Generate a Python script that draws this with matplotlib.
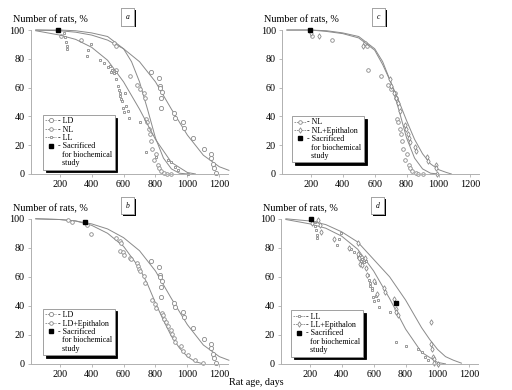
import matplotlib
matplotlib.use("Agg")
import matplotlib.pyplot as plt
import matplotlib.patheffects as pe
from matplotlib.lines import Line2D

plt.rcParams['font.family'] = ['Liberation Serif', 'DejaVu Serif']

# survival data (age in days, % of rats alive)
ld_x = [770, 824, 830, 831, 838, 832, 834, 916, 920, 974, 978, 1034, 1103, 1146, 1151, 1161, 1168, 1180]
ld_y = [71, 67, 61, 60, 57, 53, 46, 42, 39, 36, 32, 25, 17, 14, 11, 7, 4, 0.5]

nl_x = [205, 335, 540, 552, 555, 640, 684, 700, 727, 733, 740, 748, 760, 766, 770, 780, 791, 802, 813, 824, 834, 856, 873, 900]
nl_y = [96, 93, 91, 89, 72, 68, 62, 59, 56, 53, 38, 36, 31, 28, 23, 17, 10, 14, 6, 4, 2, 1, 0, 0]

ll_x = [230, 235, 240, 243, 245, 372, 380, 394, 455, 475, 505, 512, 523, 529, 538, 551, 555, 565, 570, 576,
        580, 587, 591, 598, 600, 609, 615, 626, 634, 705, 743, 804, 880, 900, 924, 940, 1006]
ll_y = [98, 95, 92, 89, 87, 82, 86, 90, 79, 77, 74, 75, 71, 72, 70, 71, 66, 61, 58, 56,
        54, 52, 51, 46, 43, 56, 47, 44, 39, 36, 15, 12, 10, 8, 5, 3, 0]

lde_x = [254, 275, 372, 394, 555, 576, 587, 580, 598, 602, 641, 645, 684, 690, 694, 701, 727, 733, 781, 798,
         806, 841, 845, 852, 867, 877, 895, 903, 914, 920, 963, 974, 1006, 1050, 1095]
lde_y = [99, 98, 96, 89.6, 87, 85, 83, 77.6, 77, 75, 73, 72, 69.6, 67.7, 65.7, 63.8, 60.4, 55.8, 44, 41,
         38.5, 35, 33.4, 31, 29, 26, 23.5, 20.5, 18, 15.4, 12, 9, 5.8, 3, 0.5]

nle_x = [202, 250, 525, 693, 703, 718, 731, 745, 756, 792, 798, 809, 813, 824, 852, 857, 925, 931, 984, 986, 988]
nle_y = [98, 96, 89, 66, 61, 56, 53, 49, 44, 34, 31, 28, 25, 22, 19, 16, 12, 9, 6, 4, 0]

lle_x = [213, 254, 261, 272, 354, 446, 500, 504, 511, 517, 526, 543, 554, 561, 602, 620, 663, 670, 728, 739,
         741, 750, 957, 962, 967, 969, 975, 978, 1000]
lle_y = [97, 99, 96, 91, 86, 80, 83, 76, 73, 69, 68, 73, 66, 61, 57, 48, 52, 49.5, 45, 38,
         36, 34, 28.6, 14, 10, 5, 3.5, 0.5, 0]

# fitted curves
ld_cx = [50, 200, 300, 400, 500, 600, 700, 800, 900, 1000, 1100, 1200, 1260]
ld_cy = [100, 99.5, 98.5, 96.5, 93, 87, 78, 64, 45, 27, 13, 5, 2.5]
nl_cx = [50, 200, 300, 400, 500, 600, 650, 700, 750, 800, 850, 900, 950, 1000]
nl_cy = [100, 100, 99.5, 98, 95.5, 87, 78, 64, 45, 25, 11, 3.5, 0.5, 0]
ll_cx = [50, 200, 300, 400, 500, 600, 700, 800, 900, 1000, 1050]
ll_cy = [99.5, 96.5, 93.5, 88, 79, 64, 45, 24, 8, 1, 0]
lde_cx = [50, 200, 300, 400, 500, 600, 700, 750, 800, 850, 900, 950, 1000, 1050, 1100]
lde_cy = [100, 99.5, 98.5, 95.5, 90, 81, 66, 55, 42, 30, 19, 11, 5, 1.5, 0]
nle_cx = [50, 200, 300, 400, 500, 600, 650, 700, 750, 800, 850, 900, 950, 1000, 1050, 1080]
nle_cy = [100, 100, 99, 97.5, 94.5, 86, 76, 64, 51, 37, 24, 14, 7, 3, 1, 0]
lle_cx = [50, 200, 300, 400, 500, 600, 700, 800, 900, 950, 1000, 1050, 1100, 1150]
lle_cy = [100, 98.5, 96, 91, 84, 72, 60, 44, 25, 17, 10, 5, 2.5, 0.5]

sac = {'a': ([189], [100]), 'b': ([360], [98]), 'c': ([196], [100]), 'd': ([210, 739], [100, 42])}

x_ticks = [200, 400, 600, 800, 1000, 1200]
y_ticks = [0, 20, 40, 60, 80, 100]

GRAY = '#8a8a8a'

groups = {
    'LD': (ld_x, ld_y, ld_cx, ld_cy, 'o', 3.0),
    'NL': (nl_x, nl_y, nl_cx, nl_cy, 'o', 2.6),
    'LL': (ll_x, ll_y, ll_cx, ll_cy, 's', 2.1),
    'LD+Epithalon': (lde_x, lde_y, lde_cx, lde_cy, 'o', 2.6),
    'NL+Epithalon': (nle_x, nle_y, nle_cx, nle_cy, 'd', 2.8),
    'LL+Epithalon': (lle_x, lle_y, lle_cx, lle_cy, 'd', 2.8),
}

panels = [
    ('a', [0.0605, 0.554, 0.385, 0.369], ['LD', 'NL', 'LL'], (0.06, 0.03)),
    ('c', [0.551, 0.554, 0.385, 0.369], ['NL', 'NL+Epithalon'], (0.05, 0.08)),
    ('b', [0.0605, 0.067, 0.385, 0.372], ['LD', 'LD+Epithalon'], (0.06, 0.06)),
    ('d', [0.549, 0.067, 0.385, 0.372], ['LL', 'LL+Epithalon'], (0.05, 0.05)),
]

fig = plt.figure(figsize=(5.12, 3.9), dpi=100)

for letter, rect, names, lpos in panels:
    ax = fig.add_axes(rect)
    handles = []
    for name in names:
        x, y, cx, cy, mk, ms = groups[name]
        ax.plot(cx, cy, color=GRAY, lw=0.7, clip_on=False)
        ax.plot(x, y, ls='none', marker=mk, ms=ms, mfc='white', mec=GRAY, mew=0.6, clip_on=False)
        handles.append(Line2D([], [], color=GRAY, lw=0.6, ls=(0, (2, 1)), marker=mk, ms=ms,
                              mfc='white', mec=GRAY, mew=0.6))
    sx, sy = sac[letter]
    ax.plot(sx, sy, ls='none', marker='s', ms=2.4, color='black', clip_on=False, zorder=5)
    handles.append(Line2D([], [], ls='none', marker='s', ms=2.4, color='black'))
    handles.append(Line2D([], [], ls='none'))
    handles.append(Line2D([], [], ls='none'))
    labels = ['- ' + n for n in names] + ['- Sacrificed', '  for biochemical', '  study']

    ax.set_xlim(20, 1255)
    ax.set_ylim(0, 100)
    ax.set_xticks(x_ticks)
    ax.set_yticks(y_ticks)
    for s in ['top', 'right']:
        ax.spines[s].set_visible(False)
    for s in ['left', 'bottom']:
        ax.spines[s].set_color('#b0b0b0')
        ax.spines[s].set_linewidth(0.7)
    ax.tick_params(labelsize=7.3, color='#b0b0b0', length=2.5, width=0.6, pad=2)

    leg = ax.legend(handles, labels, loc='lower left', bbox_to_anchor=lpos, fontsize=5.8,
                    fancybox=False, edgecolor='#909090', framealpha=1,
                    shadow={'color': 'black', 'alpha': 1}, handlelength=1.4, handletextpad=0.2,
                    labelspacing=0.05, borderpad=0.3, borderaxespad=0)
    leg.get_frame().set_linewidth(0.6)

    ax.text(-0.09, 1.04, 'Number of rats, %', transform=ax.transAxes, fontsize=7.3, va='bottom', ha='left')
    t = ax.text(0.49, 1.09, letter, transform=ax.transAxes, fontsize=5.5, style='italic',
                ha='center', va='center',
                bbox=dict(boxstyle='square,pad=0.6', fc='white', ec='#909090', lw=0.5))
    t.get_bbox_patch().set_path_effects([pe.withSimplePatchShadow(offset=(1.2, -1.2),
                                                                  shadow_rgbFace='black', alpha=1),
                                         pe.Normal()])

fig.text(0.5, 0.02, 'Rat age, days', ha='center', va='center', fontsize=7.3)

fig.savefig('out.png', dpi=100)
